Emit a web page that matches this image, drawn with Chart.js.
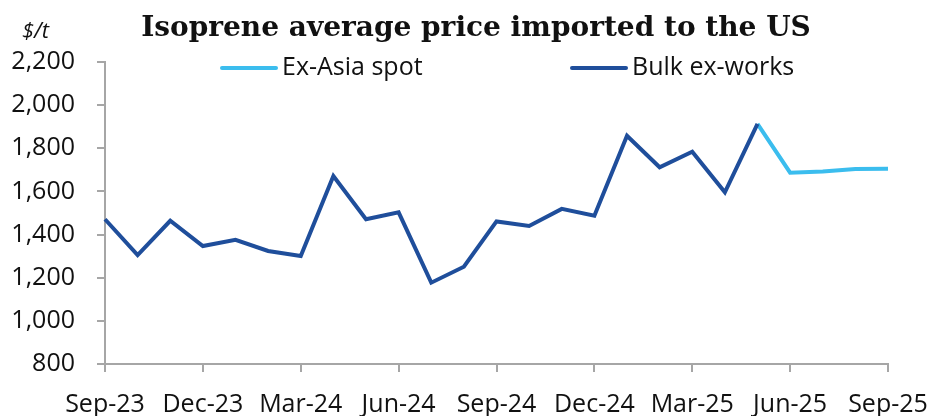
<!DOCTYPE html>
<html>
<head>
<meta charset="utf-8">
<title>Isoprene average price imported to the US</title>
<script src="https://cdn.jsdelivr.net/npm/chart.js@4.4.1/dist/chart.umd.min.js"></script>
<style>
  html, body { margin: 0; padding: 0; background: #fff; }
  #wrap { width: 933px; height: 416px; position: relative; }
</style>
</head>
<body>
<div id="wrap"><canvas id="isopreneChart"></canvas></div>
<script>
// Months, Sep-23 .. Sep-25
const months = [
    'Sep-23', 'Oct-23', 'Nov-23', 'Dec-23', 'Jan-24', 'Feb-24', 'Mar-24',
    'Apr-24', 'May-24', 'Jun-24', 'Jul-24', 'Aug-24', 'Sep-24', 'Oct-24',
    'Nov-24', 'Dec-24', 'Jan-25', 'Feb-25', 'Mar-25', 'Apr-25', 'May-25',
    'Jun-25', 'Jul-25', 'Aug-25', 'Sep-25'
];

// $/t
const bulkExWorks = [
    1471, 1305, 1464, 1347, 1376, 1324, 1301, 1671, 1471, 1503, 1177, 1251,
    1461, 1440, 1519, 1487, 1858, 1712, 1784, 1596, 1913,
    null, null, null, null
];
const exAsiaSpot = [
    null, null, null, null, null, null, null, null, null, null, null, null,
    null, null, null, null, null, null, null, null, 1913,
    1687, 1692, 1704, 1705
];

const yTicks = [800, 1000, 1200, 1400, 1600, 1800, 2000, 2200];

const chartTitle = 'Isoprene average price imported to the US';
const unitLabel = '$/t';

const DARK_BLUE = '#1f4e9b';
const LIGHT_BLUE = '#3bbdee';
const AXIS_GREY = '#a6a6a6';
const TEXT_FONT = '"Open Sans", "Noto Sans", sans-serif';

// title, unit label and legend drawn by hand
// (title is centred a bit right of the canvas, legend sits inside the plot area)
const extrasPlugin = {
    id: 'extras',
    afterDraw(chart) {
        const ctx = chart.ctx;
        const area = chart.chartArea;
        ctx.save();

        ctx.fillStyle = '#111';
        ctx.textBaseline = 'middle';

        ctx.font = 'bold 28px "DejaVu Serif", serif';
        ctx.textAlign = 'center';
        ctx.fillText(chartTitle, 476, 29);

        ctx.font = 'italic 22px ' + TEXT_FONT;
        ctx.textAlign = 'left';
        ctx.fillText(unitLabel, 22, 32);

        const items = [
            { label: chart.data.datasets[0].label, color: LIGHT_BLUE, x: area.left + 117 },
            { label: chart.data.datasets[1].label, color: DARK_BLUE, x: area.left + 467 }
        ];
        const y = area.top + 6;
        ctx.font = '25px ' + TEXT_FONT;
        items.forEach(item => {
            ctx.strokeStyle = item.color;
            ctx.lineWidth = 4;
            ctx.lineCap = 'round';
            ctx.beginPath();
            ctx.moveTo(item.x, y);
            ctx.lineTo(item.x + 54, y);
            ctx.stroke();
            ctx.fillStyle = '#111';
            ctx.fillText(item.label, item.x + 60, y);
        });
        ctx.restore();
    }
};

function initializeIsopreneChart() {
    const ctx = document.getElementById('isopreneChart');
    if (!ctx) return;

    new Chart(ctx, {
        type: 'line',
        data: {
            labels: months,
            datasets: [{
                label: 'Ex-Asia spot',
                data: exAsiaSpot,
                borderColor: LIGHT_BLUE,
                backgroundColor: LIGHT_BLUE,
                borderWidth: 4,
                pointRadius: 0,
                tension: 0,
                order: 1
            }, {
                label: 'Bulk ex-works',
                data: bulkExWorks,
                borderColor: DARK_BLUE,
                backgroundColor: DARK_BLUE,
                borderWidth: 4,
                pointRadius: 0,
                tension: 0,
                order: 0
            }]
        },
        options: {
            responsive: true,
            maintainAspectRatio: false,
            animation: false,
            layout: {
                padding: { top: 62, bottom: 0, left: 10, right: 20 }
            },
            plugins: {
                legend: { display: false },
                tooltip: { enabled: false },
                title: { display: false }
            },
            scales: {
                x: {
                    offset: false,
                    border: { color: AXIS_GREY, width: 2 },
                    grid: {
                        drawOnChartArea: false,
                        color: AXIS_GREY,
                        lineWidth: 2,
                        tickLength: 8
                    },
                    afterFit: (axis) => {
                        axis.height = 52;
                        axis.paddingRight = 45;
                    },
                    ticks: {
                        autoSkip: false,
                        maxRotation: 0,
                        padding: 18,
                        color: '#111',
                        font: { family: TEXT_FONT, size: 25 },
                        callback: (value, index) => index % 3 === 0 ? months[index] : null
                    }
                },
                y: {
                    min: yTicks[0],
                    max: yTicks[yTicks.length - 1],
                    border: { color: AXIS_GREY, width: 2 },
                    grid: {
                        drawOnChartArea: false,
                        color: AXIS_GREY,
                        lineWidth: 2,
                        tickLength: 8
                    },
                    afterBuildTicks: (axis) => {
                        axis.ticks = yTicks.map(v => ({ value: v }));
                    },
                    afterFit: (axis) => { axis.width = 95; },
                    ticks: {
                        padding: 22,
                        color: '#111',
                        font: { family: TEXT_FONT, size: 25 },
                        callback: (value) => value.toLocaleString('en-US')
                    }
                }
            }
        },
        plugins: [extrasPlugin]
    });
}

document.addEventListener('DOMContentLoaded', function () {
    initializeIsopreneChart();
});
</script>
</body>
</html>
